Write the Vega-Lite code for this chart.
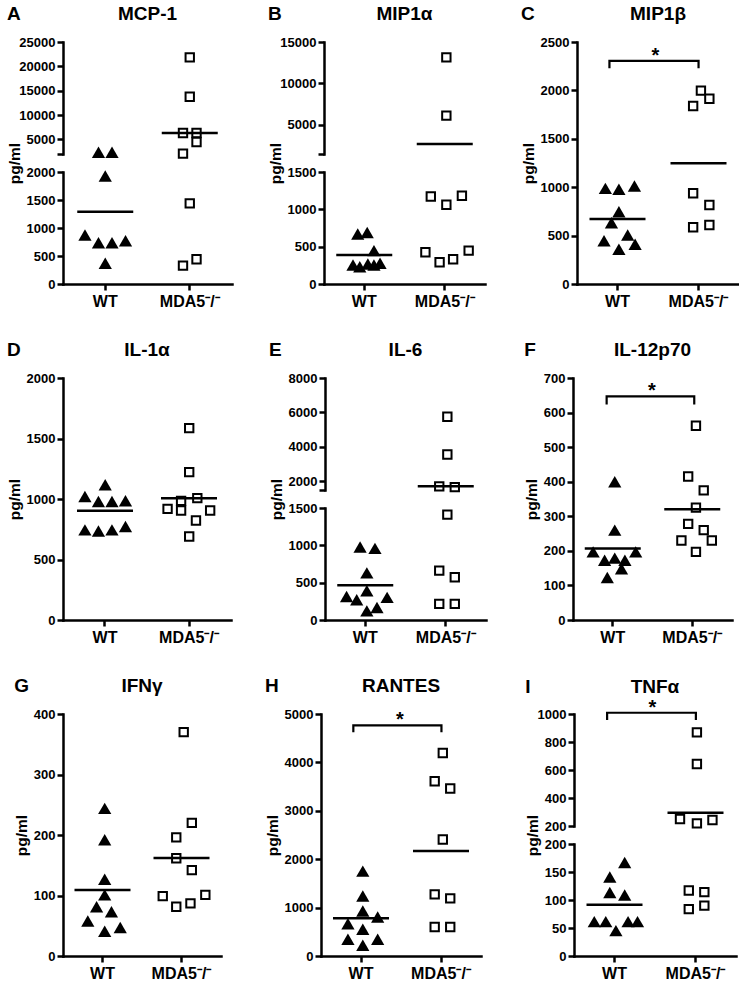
{
"$schema": "https://vega.github.io/schema/vega-lite/v6.json",
"padding": {"left": 7, "top": 5, "right": 0, "bottom": 0},
"background": "white",
"config": {
  "view": {"stroke": null},
  "font": "Liberation Sans",
  "title": {"font": "Liberation Sans", "fontSize": 19, "fontWeight": "bold", "color": "black"},
  "axis": {"domainColor": "black", "domainWidth": 2.5, "domainCap": "square", "tickColor": "black", "tickWidth": 2.5, "tickSize": 6, "labelColor": "black", "labelFont": "Liberation Sans", "labelFontWeight": "bold", "labelFontSize": 13, "labelPadding": 2, "titleColor": "black", "titleFont": "Liberation Sans", "titleFontWeight": "bold", "titleFontSize": 15.5, "titlePadding": 4, "grid": false, "labelFlush": false, "labelOverlap": false},
  "axisX": {"labelFontSize": 16, "labelPadding": 3, "labelAngle": 0}
},
"datasets": {
  "pts": [
    {"p":"A","g":"WT","j":-1,"v":2380},{"p":"A","g":"WT","j":1,"v":2380},{"p":"A","g":"WT","j":0,"v":1930},{"p":"A","g":"WT","j":-3,"v":875},{"p":"A","g":"WT","j":-1,"v":737},{"p":"A","g":"WT","j":1,"v":737},{"p":"A","g":"WT","j":3,"v":773},{"p":"A","g":"WT","j":0,"v":370},
    {"p":"A","g":"MDA5","j":0,"v":21850},{"p":"A","g":"MDA5","j":0,"v":13750},{"p":"A","g":"MDA5","j":-1,"v":6316},{"p":"A","g":"MDA5","j":1,"v":6316},{"p":"A","g":"MDA5","j":1,"v":4460},{"p":"A","g":"MDA5","j":-1,"v":2070},{"p":"A","g":"MDA5","j":0,"v":1440},{"p":"A","g":"MDA5","j":-1,"v":327},{"p":"A","g":"MDA5","j":1,"v":441},
    {"p":"B","g":"WT","j":-1.2,"v":671},{"p":"B","g":"WT","j":0.2,"v":689},{"p":"B","g":"WT","j":1.2,"v":447},{"p":"B","g":"WT","j":-1.9,"v":255},{"p":"B","g":"WT","j":-0.9,"v":232},{"p":"B","g":"WT","j":0.3,"v":269},{"p":"B","g":"WT","j":1.2,"v":255},{"p":"B","g":"WT","j":2.1,"v":278},
    {"p":"B","g":"MDA5","j":0,"v":13150},{"p":"B","g":"MDA5","j":0,"v":6120},{"p":"B","g":"MDA5","j":-2.3,"v":1172},{"p":"B","g":"MDA5","j":0,"v":1061},{"p":"B","g":"MDA5","j":2.3,"v":1182},{"p":"B","g":"MDA5","j":-3.1,"v":426},{"p":"B","g":"MDA5","j":-1,"v":292},{"p":"B","g":"MDA5","j":1,"v":332},{"p":"B","g":"MDA5","j":3.3,"v":447},
    {"p":"C","g":"WT","j":-2,"v":988},{"p":"C","g":"WT","j":0,"v":978},{"p":"C","g":"WT","j":2.3,"v":1012},{"p":"C","g":"WT","j":0,"v":747},{"p":"C","g":"WT","j":-1.1,"v":633},{"p":"C","g":"WT","j":1.3,"v":506},{"p":"C","g":"WT","j":-2.2,"v":447},{"p":"C","g":"WT","j":2.4,"v":410},{"p":"C","g":"WT","j":0,"v":358},
    {"p":"C","g":"MDA5","j":0.15,"v":1998},{"p":"C","g":"MDA5","j":1.4,"v":1914},{"p":"C","g":"MDA5","j":-1,"v":1839},{"p":"C","g":"MDA5","j":-1,"v":937},{"p":"C","g":"MDA5","j":1.4,"v":816},{"p":"C","g":"MDA5","j":-1,"v":586},{"p":"C","g":"MDA5","j":1.4,"v":610},
    {"p":"D","g":"WT","j":-3,"v":1021},{"p":"D","g":"WT","j":0,"v":1117},{"p":"D","g":"WT","j":-1,"v":980},{"p":"D","g":"WT","j":1,"v":980},{"p":"D","g":"WT","j":3,"v":985},{"p":"D","g":"WT","j":-3,"v":745},{"p":"D","g":"WT","j":-1,"v":736},{"p":"D","g":"WT","j":1,"v":745},{"p":"D","g":"WT","j":3,"v":773},
    {"p":"D","g":"MDA5","j":0,"v":1586},{"p":"D","g":"MDA5","j":0,"v":1222},{"p":"D","g":"MDA5","j":-1.2,"v":985},{"p":"D","g":"MDA5","j":1.2,"v":1007},{"p":"D","g":"MDA5","j":-3.2,"v":918},{"p":"D","g":"MDA5","j":-1.2,"v":905},{"p":"D","g":"MDA5","j":3.1,"v":905},{"p":"D","g":"MDA5","j":1,"v":822},{"p":"D","g":"MDA5","j":0,"v":690},
    {"p":"E","g":"WT","j":-1,"v":978},{"p":"E","g":"WT","j":1.2,"v":959},{"p":"E","g":"WT","j":0,"v":631},{"p":"E","g":"WT","j":-3,"v":316},{"p":"E","g":"WT","j":-1.5,"v":270},{"p":"E","g":"WT","j":0,"v":392},{"p":"E","g":"WT","j":3,"v":303},{"p":"E","g":"WT","j":0,"v":122},{"p":"E","g":"WT","j":1.5,"v":168},
    {"p":"E","g":"MDA5","j":0,"v":5754},{"p":"E","g":"MDA5","j":0,"v":3560},{"p":"E","g":"MDA5","j":-1.2,"v":1707},{"p":"E","g":"MDA5","j":1.1,"v":1666},{"p":"E","g":"MDA5","j":0,"v":1411},{"p":"E","g":"MDA5","j":-1.2,"v":662},{"p":"E","g":"MDA5","j":1.1,"v":573},{"p":"E","g":"MDA5","j":-1.2,"v":216},{"p":"E","g":"MDA5","j":1.1,"v":216},
    {"p":"F","g":"WT","j":0,"v":400},{"p":"F","g":"WT","j":0,"v":260},{"p":"F","g":"WT","j":-3.2,"v":197},{"p":"F","g":"WT","j":3.1,"v":197},{"p":"F","g":"WT","j":-1.5,"v":173},{"p":"F","g":"WT","j":0,"v":179},{"p":"F","g":"WT","j":1.5,"v":173},{"p":"F","g":"WT","j":1,"v":148},{"p":"F","g":"WT","j":-1.1,"v":123},
    {"p":"F","g":"MDA5","j":0.25,"v":562},{"p":"F","g":"MDA5","j":-0.9,"v":415},{"p":"F","g":"MDA5","j":1.4,"v":375},{"p":"F","g":"MDA5","j":0.25,"v":325},{"p":"F","g":"MDA5","j":-0.9,"v":278},{"p":"F","g":"MDA5","j":1.4,"v":260},{"p":"F","g":"MDA5","j":-1.9,"v":230},{"p":"F","g":"MDA5","j":2.6,"v":230},{"p":"F","g":"MDA5","j":0.25,"v":197},
    {"p":"G","g":"WT","j":0,"v":244},{"p":"G","g":"WT","j":0,"v":192},{"p":"G","g":"WT","j":0,"v":127},{"p":"G","g":"WT","j":0,"v":101},{"p":"G","g":"WT","j":-1.2,"v":81.5},{"p":"G","g":"WT","j":1,"v":73},{"p":"G","g":"WT","j":-2.5,"v":58},{"p":"G","g":"WT","j":2.3,"v":47},{"p":"G","g":"WT","j":0,"v":41},
    {"p":"G","g":"MDA5","j":0,"v":370},{"p":"G","g":"MDA5","j":1.2,"v":220},{"p":"G","g":"MDA5","j":-1.1,"v":196},{"p":"G","g":"MDA5","j":-1.1,"v":161.5},{"p":"G","g":"MDA5","j":1.2,"v":142},{"p":"G","g":"MDA5","j":-3.1,"v":99},{"p":"G","g":"MDA5","j":-1.1,"v":81.5},{"p":"G","g":"MDA5","j":1,"v":87},{"p":"G","g":"MDA5","j":3.2,"v":101},
    {"p":"H","g":"WT","j":0,"v":1754},{"p":"H","g":"WT","j":0,"v":1238},{"p":"H","g":"WT","j":0,"v":929},{"p":"H","g":"WT","j":-2.2,"v":667},{"p":"H","g":"WT","j":2.2,"v":805},{"p":"H","g":"WT","j":0,"v":551},{"p":"H","g":"WT","j":-2.2,"v":345},{"p":"H","g":"WT","j":2.2,"v":345},{"p":"H","g":"WT","j":0,"v":221},
    {"p":"H","g":"MDA5","j":0,"v":4195},{"p":"H","g":"MDA5","j":-1.2,"v":3611},{"p":"H","g":"MDA5","j":1.1,"v":3460},{"p":"H","g":"MDA5","j":0,"v":2408},{"p":"H","g":"MDA5","j":-1.2,"v":1273},{"p":"H","g":"MDA5","j":1.1,"v":1191},{"p":"H","g":"MDA5","j":-1.2,"v":598},{"p":"H","g":"MDA5","j":1.1,"v":598},
    {"p":"I","g":"WT","j":1.3,"v":167},{"p":"I","g":"WT","j":-0.9,"v":141},{"p":"I","g":"WT","j":-0.9,"v":113.5},{"p":"I","g":"WT","j":1.3,"v":109},{"p":"I","g":"WT","j":-3.2,"v":61.4},{"p":"I","g":"WT","j":-1.5,"v":61.4},{"p":"I","g":"WT","j":0,"v":45.3},{"p":"I","g":"WT","j":1.8,"v":61.4},{"p":"I","g":"WT","j":3.2,"v":61.4},
    {"p":"I","g":"MDA5","j":0,"v":869},{"p":"I","g":"MDA5","j":0,"v":643},{"p":"I","g":"MDA5","j":-2.5,"v":250},{"p":"I","g":"MDA5","j":0,"v":219},{"p":"I","g":"MDA5","j":2.3,"v":243},{"p":"I","g":"MDA5","j":-1.2,"v":117},{"p":"I","g":"MDA5","j":1.1,"v":114},{"p":"I","g":"MDA5","j":-1.2,"v":83.6},{"p":"I","g":"MDA5","j":1.1,"v":90}
  ],
  "means": [
    {"p":"A","g":"WT","v":1290},{"p":"A","g":"MDA5","v":6320},
    {"p":"B","g":"WT","v":389},{"p":"B","g":"MDA5","v":2710},
    {"p":"C","g":"WT","v":671},{"p":"C","g":"MDA5","v":1247},
    {"p":"D","g":"WT","v":902},{"p":"D","g":"MDA5","v":1007},
    {"p":"E","g":"WT","v":465},{"p":"E","g":"MDA5","v":1724},
    {"p":"F","g":"WT","v":206.5},{"p":"F","g":"MDA5","v":320},
    {"p":"G","g":"WT","v":109},{"p":"G","g":"MDA5","v":162},
    {"p":"H","g":"WT","v":778},{"p":"H","g":"MDA5","v":2167},
    {"p":"I","g":"WT","v":91.3},{"p":"I","g":"MDA5","v":295}
  ],
  "brk": [
    {"p":"C","g":"WT","j":-1.4,"v":2228,"o":1},{"p":"C","g":"WT","j":-1.4,"v":2304,"o":2},{"p":"C","g":"MDA5","j":-0.2,"v":2304,"o":3},{"p":"C","g":"MDA5","j":-0.2,"v":2228,"o":4},
    {"p":"F","g":"WT","j":-1.2,"v":623,"o":1},{"p":"F","g":"WT","j":-1.2,"v":647,"o":2},{"p":"F","g":"MDA5","j":0,"v":647,"o":3},{"p":"F","g":"MDA5","j":0,"v":623,"o":4},
    {"p":"H","g":"WT","j":-1.4,"v":4622,"o":1},{"p":"H","g":"WT","j":-1.4,"v":4767,"o":2},{"p":"H","g":"MDA5","j":-0.2,"v":4767,"o":3},{"p":"H","g":"MDA5","j":-0.2,"v":4622,"o":4},
    {"p":"I","g":"WT","j":-1.3,"v":957,"o":1},{"p":"I","g":"WT","j":-1.3,"v":1009,"o":2},{"p":"I","g":"MDA5","j":-0.15,"v":1009,"o":3},{"p":"I","g":"MDA5","j":-0.15,"v":957,"o":4}
  ],
  "ast": [
    {"p":"C","g":"WT","j":5.4,"v":2304},{"p":"F","g":"WT","j":5.5,"v":647},{"p":"H","g":"WT","j":5.5,"v":4767},{"p":"I","g":"WT","j":5.4,"v":1009}
  ]
},
"spacing": 32,
"vconcat": [
 {"spacing": 36, "hconcat": [
  {"title": {"text": "A", "anchor": "start", "frame": "bounds", "offset": -19}, "bounds": "flush", "spacing": 18, "vconcat": [
   {"width": 169, "height": 112,
    "title": {"text": "MCP-1", "anchor": "middle", "frame": "group", "offset": 12},
    "encoding": {
      "x": {"field": "g", "type": "nominal", "scale": {"type": "band", "domain": ["WT","MDA5"], "paddingInner": 0.2, "paddingOuter": 0.1}, "axis": null},
      "y": {"field": "v", "type": "quantitative", "scale": {"domain": [2000, 25000], "nice": false, "zero": false}, "axis": {"values": [2000,5000,10000,15000,20000,25000], "format": "d", "title": null, "labelExpr": "datum.value == 2000 ? '' : datum.label"}}},
    "layer": [
      {"data": {"name": "pts"}, "transform": [{"filter": "datum.p == 'A' && datum.g == 'WT' && datum.v >= 2000"}], "mark": {"type": "point", "shape": "triangle-up", "filled": true, "color": "black", "size": 175, "opacity": 1}, "encoding": {"xOffset": {"field": "j", "type": "quantitative", "scale": {"domain": [-5, 5]}}}},
      {"data": {"name": "pts"}, "transform": [{"filter": "datum.p == 'A' && datum.g == 'MDA5' && datum.v >= 2000"}], "mark": {"type": "point", "shape": "square", "filled": true, "fill": "white", "stroke": "black", "strokeWidth": 2, "size": 70, "opacity": 1}, "encoding": {"xOffset": {"field": "j", "type": "quantitative", "scale": {"domain": [-5, 5]}}}},
      {"data": {"name": "means"}, "transform": [{"filter": "datum.p == 'A' && datum.v >= 2000"}], "mark": {"type": "tick", "orient": "horizontal", "size": 56, "thickness": 2.5, "color": "black", "opacity": 1}}
    ]},
   {"width": 169, "height": 112,
    "encoding": {
      "x": {"field": "g", "type": "nominal", "scale": {"type": "band", "domain": ["WT","MDA5"], "paddingInner": 0.2, "paddingOuter": 0.1}, "axis": {"title": null, "labelExpr": "datum.value == 'MDA5' ? 'MDA5⁻/⁻' : 'WT'"}},
      "y": {"field": "v", "type": "quantitative", "scale": {"domain": [0, 2000], "nice": false, "zero": false}, "axis": {"values": [0,500,1000,1500,2000], "format": "d", "title": "pg/ml", "titleY": -9}}},
    "layer": [
      {"data": {"name": "pts"}, "transform": [{"filter": "datum.p == 'A' && datum.g == 'WT' && datum.v < 2000"}], "mark": {"type": "point", "shape": "triangle-up", "filled": true, "color": "black", "size": 175, "opacity": 1}, "encoding": {"xOffset": {"field": "j", "type": "quantitative", "scale": {"domain": [-5, 5]}}}},
      {"data": {"name": "pts"}, "transform": [{"filter": "datum.p == 'A' && datum.g == 'MDA5' && datum.v < 2000"}], "mark": {"type": "point", "shape": "square", "filled": true, "fill": "white", "stroke": "black", "strokeWidth": 2, "size": 70, "opacity": 1}, "encoding": {"xOffset": {"field": "j", "type": "quantitative", "scale": {"domain": [-5, 5]}}}},
      {"data": {"name": "means"}, "transform": [{"filter": "datum.p == 'A' && datum.v < 2000"}], "mark": {"type": "tick", "orient": "horizontal", "size": 56, "thickness": 2.5, "color": "black", "opacity": 1}}
    ]}
  ]},
  {"title": {"text": "B", "anchor": "start", "frame": "bounds", "offset": -19}, "bounds": "flush", "spacing": 18, "vconcat": [
   {"width": 161, "height": 112,
    "title": {"text": "MIP1α", "anchor": "middle", "frame": "group", "offset": 12},
    "encoding": {
      "x": {"field": "g", "type": "nominal", "scale": {"type": "band", "domain": ["WT","MDA5"], "paddingInner": 0.2, "paddingOuter": 0.1}, "axis": null},
      "y": {"field": "v", "type": "quantitative", "scale": {"domain": [1500, 15000], "nice": false, "zero": false}, "axis": {"values": [1500,5000,10000,15000], "format": "d", "title": null, "labelExpr": "datum.value == 1500 ? '' : datum.label"}}},
    "layer": [
      {"data": {"name": "pts"}, "transform": [{"filter": "datum.p == 'B' && datum.g == 'WT' && datum.v >= 1500"}], "mark": {"type": "point", "shape": "triangle-up", "filled": true, "color": "black", "size": 175, "opacity": 1}, "encoding": {"xOffset": {"field": "j", "type": "quantitative", "scale": {"domain": [-5, 5]}}}},
      {"data": {"name": "pts"}, "transform": [{"filter": "datum.p == 'B' && datum.g == 'MDA5' && datum.v >= 1500"}], "mark": {"type": "point", "shape": "square", "filled": true, "fill": "white", "stroke": "black", "strokeWidth": 2, "size": 70, "opacity": 1}, "encoding": {"xOffset": {"field": "j", "type": "quantitative", "scale": {"domain": [-5, 5]}}}},
      {"data": {"name": "means"}, "transform": [{"filter": "datum.p == 'B' && datum.v >= 1500"}], "mark": {"type": "tick", "orient": "horizontal", "size": 56, "thickness": 2.5, "color": "black", "opacity": 1}}
    ]},
   {"width": 161, "height": 112,
    "encoding": {
      "x": {"field": "g", "type": "nominal", "scale": {"type": "band", "domain": ["WT","MDA5"], "paddingInner": 0.2, "paddingOuter": 0.1}, "axis": {"title": null, "labelExpr": "datum.value == 'MDA5' ? 'MDA5⁻/⁻' : 'WT'"}},
      "y": {"field": "v", "type": "quantitative", "scale": {"domain": [0, 1500], "nice": false, "zero": false}, "axis": {"values": [0,500,1000,1500], "format": "d", "title": "pg/ml", "titleY": -9}}},
    "layer": [
      {"data": {"name": "pts"}, "transform": [{"filter": "datum.p == 'B' && datum.g == 'WT' && datum.v < 1500"}], "mark": {"type": "point", "shape": "triangle-up", "filled": true, "color": "black", "size": 175, "opacity": 1}, "encoding": {"xOffset": {"field": "j", "type": "quantitative", "scale": {"domain": [-5, 5]}}}},
      {"data": {"name": "pts"}, "transform": [{"filter": "datum.p == 'B' && datum.g == 'MDA5' && datum.v < 1500"}], "mark": {"type": "point", "shape": "square", "filled": true, "fill": "white", "stroke": "black", "strokeWidth": 2, "size": 70, "opacity": 1}, "encoding": {"xOffset": {"field": "j", "type": "quantitative", "scale": {"domain": [-5, 5]}}}},
      {"data": {"name": "means"}, "transform": [{"filter": "datum.p == 'B' && datum.v < 1500"}], "mark": {"type": "tick", "orient": "horizontal", "size": 56, "thickness": 2.5, "color": "black", "opacity": 1}}
    ]}
  ]},
  {"title": {"text": "C", "anchor": "start", "frame": "bounds", "offset": -19}, "bounds": "flush", "vconcat": [
   {"width": 162, "height": 242,
    "title": {"text": "MIP1β", "anchor": "middle", "frame": "group", "offset": 12},
    "encoding": {
      "x": {"field": "g", "type": "nominal", "scale": {"type": "band", "domain": ["WT","MDA5"], "paddingInner": 0.2, "paddingOuter": 0.1}, "axis": {"title": null, "labelExpr": "datum.value == 'MDA5' ? 'MDA5⁻/⁻' : 'WT'"}},
      "y": {"field": "v", "type": "quantitative", "scale": {"domain": [0, 2500], "nice": false, "zero": false}, "axis": {"values": [0,500,1000,1500,2000,2500], "format": "d", "title": "pg/ml"}}},
    "layer": [
      {"data": {"name": "pts"}, "transform": [{"filter": "datum.p == 'C' && datum.g == 'WT'"}], "mark": {"type": "point", "shape": "triangle-up", "filled": true, "color": "black", "size": 175, "opacity": 1}, "encoding": {"xOffset": {"field": "j", "type": "quantitative", "scale": {"domain": [-5, 5]}}}},
      {"data": {"name": "pts"}, "transform": [{"filter": "datum.p == 'C' && datum.g == 'MDA5'"}], "mark": {"type": "point", "shape": "square", "filled": true, "fill": "white", "stroke": "black", "strokeWidth": 2, "size": 70, "opacity": 1}, "encoding": {"xOffset": {"field": "j", "type": "quantitative", "scale": {"domain": [-5, 5]}}}},
      {"data": {"name": "means"}, "transform": [{"filter": "datum.p == 'C'"}], "mark": {"type": "tick", "orient": "horizontal", "size": 56, "thickness": 2.5, "color": "black", "opacity": 1}},
      {"data": {"name": "brk"}, "transform": [{"filter": "datum.p == 'C'"}], "mark": {"type": "line", "color": "black", "strokeWidth": 2.2}, "encoding": {"xOffset": {"field": "j", "type": "quantitative", "scale": {"domain": [-5, 5]}}, "order": {"field": "o", "type": "quantitative"}}},
      {"data": {"name": "ast"}, "transform": [{"filter": "datum.p == 'C'"}], "mark": {"type": "text", "text": "*", "fontSize": 20, "fontWeight": "bold", "baseline": "alphabetic", "dy": 1, "color": "black"}, "encoding": {"xOffset": {"field": "j", "type": "quantitative", "scale": {"domain": [-5, 5]}}}}
    ]}
  ]}
 ]},
 {"spacing": 38, "hconcat": [
  {"title": {"text": "D", "anchor": "start", "frame": "bounds", "offset": -19}, "bounds": "flush", "vconcat": [
   {"width": 168, "height": 242,
    "title": {"text": "IL-1α", "anchor": "middle", "frame": "group", "offset": 12},
    "encoding": {
      "x": {"field": "g", "type": "nominal", "scale": {"type": "band", "domain": ["WT","MDA5"], "paddingInner": 0.2, "paddingOuter": 0.1}, "axis": {"title": null, "labelExpr": "datum.value == 'MDA5' ? 'MDA5⁻/⁻' : 'WT'"}},
      "y": {"field": "v", "type": "quantitative", "scale": {"domain": [0, 2000], "nice": false, "zero": false}, "axis": {"values": [0,500,1000,1500,2000], "format": "d", "title": "pg/ml"}}},
    "layer": [
      {"data": {"name": "pts"}, "transform": [{"filter": "datum.p == 'D' && datum.g == 'WT'"}], "mark": {"type": "point", "shape": "triangle-up", "filled": true, "color": "black", "size": 175, "opacity": 1}, "encoding": {"xOffset": {"field": "j", "type": "quantitative", "scale": {"domain": [-5, 5]}}}},
      {"data": {"name": "pts"}, "transform": [{"filter": "datum.p == 'D' && datum.g == 'MDA5'"}], "mark": {"type": "point", "shape": "square", "filled": true, "fill": "white", "stroke": "black", "strokeWidth": 2, "size": 70, "opacity": 1}, "encoding": {"xOffset": {"field": "j", "type": "quantitative", "scale": {"domain": [-5, 5]}}}},
      {"data": {"name": "means"}, "transform": [{"filter": "datum.p == 'D'"}], "mark": {"type": "tick", "orient": "horizontal", "size": 56, "thickness": 2.5, "color": "black", "opacity": 1}}
    ]}
  ]},
  {"title": {"text": "E", "anchor": "start", "frame": "bounds", "offset": -19}, "bounds": "flush", "spacing": 18, "vconcat": [
   {"width": 161, "height": 112,
    "title": {"text": "IL-6", "anchor": "middle", "frame": "group", "offset": 12},
    "encoding": {
      "x": {"field": "g", "type": "nominal", "scale": {"type": "band", "domain": ["WT","MDA5"], "paddingInner": 0.2, "paddingOuter": 0.1}, "axis": null},
      "y": {"field": "v", "type": "quantitative", "scale": {"domain": [1500, 8000], "nice": false, "zero": false}, "axis": {"values": [1500,2000,4000,6000,8000], "format": "d", "title": null, "labelExpr": "datum.value == 1500 ? '' : datum.label"}}},
    "layer": [
      {"data": {"name": "pts"}, "transform": [{"filter": "datum.p == 'E' && datum.g == 'WT' && datum.v >= 1500"}], "mark": {"type": "point", "shape": "triangle-up", "filled": true, "color": "black", "size": 175, "opacity": 1}, "encoding": {"xOffset": {"field": "j", "type": "quantitative", "scale": {"domain": [-5, 5]}}}},
      {"data": {"name": "pts"}, "transform": [{"filter": "datum.p == 'E' && datum.g == 'MDA5' && datum.v >= 1500"}], "mark": {"type": "point", "shape": "square", "filled": true, "fill": "white", "stroke": "black", "strokeWidth": 2, "size": 70, "opacity": 1}, "encoding": {"xOffset": {"field": "j", "type": "quantitative", "scale": {"domain": [-5, 5]}}}},
      {"data": {"name": "means"}, "transform": [{"filter": "datum.p == 'E' && datum.v >= 1500"}], "mark": {"type": "tick", "orient": "horizontal", "size": 56, "thickness": 2.5, "color": "black", "opacity": 1}}
    ]},
   {"width": 161, "height": 112,
    "encoding": {
      "x": {"field": "g", "type": "nominal", "scale": {"type": "band", "domain": ["WT","MDA5"], "paddingInner": 0.2, "paddingOuter": 0.1}, "axis": {"title": null, "labelExpr": "datum.value == 'MDA5' ? 'MDA5⁻/⁻' : 'WT'"}},
      "y": {"field": "v", "type": "quantitative", "scale": {"domain": [0, 1500], "nice": false, "zero": false}, "axis": {"values": [0,500,1000,1500], "format": "d", "title": "pg/ml", "titleY": -9}}},
    "layer": [
      {"data": {"name": "pts"}, "transform": [{"filter": "datum.p == 'E' && datum.g == 'WT' && datum.v < 1500"}], "mark": {"type": "point", "shape": "triangle-up", "filled": true, "color": "black", "size": 175, "opacity": 1}, "encoding": {"xOffset": {"field": "j", "type": "quantitative", "scale": {"domain": [-5, 5]}}}},
      {"data": {"name": "pts"}, "transform": [{"filter": "datum.p == 'E' && datum.g == 'MDA5' && datum.v < 1500"}], "mark": {"type": "point", "shape": "square", "filled": true, "fill": "white", "stroke": "black", "strokeWidth": 2, "size": 70, "opacity": 1}, "encoding": {"xOffset": {"field": "j", "type": "quantitative", "scale": {"domain": [-5, 5]}}}},
      {"data": {"name": "means"}, "transform": [{"filter": "datum.p == 'E' && datum.v < 1500"}], "mark": {"type": "tick", "orient": "horizontal", "size": 56, "thickness": 2.5, "color": "black", "opacity": 1}}
    ]}
  ]},
  {"title": {"text": "F", "anchor": "start", "frame": "bounds", "offset": -19}, "bounds": "flush", "vconcat": [
   {"width": 159, "height": 242,
    "title": {"text": "IL-12p70", "anchor": "middle", "frame": "group", "offset": 12},
    "encoding": {
      "x": {"field": "g", "type": "nominal", "scale": {"type": "band", "domain": ["WT","MDA5"], "paddingInner": 0.2, "paddingOuter": 0.1}, "axis": {"title": null, "labelExpr": "datum.value == 'MDA5' ? 'MDA5⁻/⁻' : 'WT'"}},
      "y": {"field": "v", "type": "quantitative", "scale": {"domain": [0, 700], "nice": false, "zero": false}, "axis": {"values": [0,100,200,300,400,500,600,700], "format": "d", "title": "pg/ml"}}},
    "layer": [
      {"data": {"name": "pts"}, "transform": [{"filter": "datum.p == 'F' && datum.g == 'WT'"}], "mark": {"type": "point", "shape": "triangle-up", "filled": true, "color": "black", "size": 175, "opacity": 1}, "encoding": {"xOffset": {"field": "j", "type": "quantitative", "scale": {"domain": [-5, 5]}}}},
      {"data": {"name": "pts"}, "transform": [{"filter": "datum.p == 'F' && datum.g == 'MDA5'"}], "mark": {"type": "point", "shape": "square", "filled": true, "fill": "white", "stroke": "black", "strokeWidth": 2, "size": 70, "opacity": 1}, "encoding": {"xOffset": {"field": "j", "type": "quantitative", "scale": {"domain": [-5, 5]}}}},
      {"data": {"name": "means"}, "transform": [{"filter": "datum.p == 'F'"}], "mark": {"type": "tick", "orient": "horizontal", "size": 56, "thickness": 2.5, "color": "black", "opacity": 1}},
      {"data": {"name": "brk"}, "transform": [{"filter": "datum.p == 'F'"}], "mark": {"type": "line", "color": "black", "strokeWidth": 2.2}, "encoding": {"xOffset": {"field": "j", "type": "quantitative", "scale": {"domain": [-5, 5]}}, "order": {"field": "o", "type": "quantitative"}}},
      {"data": {"name": "ast"}, "transform": [{"filter": "datum.p == 'F'"}], "mark": {"type": "text", "text": "*", "fontSize": 20, "fontWeight": "bold", "baseline": "alphabetic", "dy": 1, "color": "black"}, "encoding": {"xOffset": {"field": "j", "type": "quantitative", "scale": {"domain": [-5, 5]}}}}
    ]}
  ]}
 ]},
 {"spacing": 44, "hconcat": [
  {"title": {"text": "G", "anchor": "start", "frame": "bounds", "offset": -19}, "bounds": "flush", "vconcat": [
   {"width": 158, "height": 242,
    "title": {"text": "IFNγ", "anchor": "middle", "frame": "group", "offset": 12},
    "encoding": {
      "x": {"field": "g", "type": "nominal", "scale": {"type": "band", "domain": ["WT","MDA5"], "paddingInner": 0.2, "paddingOuter": 0.1}, "axis": {"title": null, "labelExpr": "datum.value == 'MDA5' ? 'MDA5⁻/⁻' : 'WT'"}},
      "y": {"field": "v", "type": "quantitative", "scale": {"domain": [0, 400], "nice": false, "zero": false}, "axis": {"values": [0,100,200,300,400], "format": "d", "title": "pg/ml"}}},
    "layer": [
      {"data": {"name": "pts"}, "transform": [{"filter": "datum.p == 'G' && datum.g == 'WT'"}], "mark": {"type": "point", "shape": "triangle-up", "filled": true, "color": "black", "size": 175, "opacity": 1}, "encoding": {"xOffset": {"field": "j", "type": "quantitative", "scale": {"domain": [-5, 5]}}}},
      {"data": {"name": "pts"}, "transform": [{"filter": "datum.p == 'G' && datum.g == 'MDA5'"}], "mark": {"type": "point", "shape": "square", "filled": true, "fill": "white", "stroke": "black", "strokeWidth": 2, "size": 70, "opacity": 1}, "encoding": {"xOffset": {"field": "j", "type": "quantitative", "scale": {"domain": [-5, 5]}}}},
      {"data": {"name": "means"}, "transform": [{"filter": "datum.p == 'G'"}], "mark": {"type": "tick", "orient": "horizontal", "size": 56, "thickness": 2.5, "color": "black", "opacity": 1}}
    ]}
  ]},
  {"title": {"text": "H", "anchor": "start", "frame": "bounds", "offset": -19}, "bounds": "flush", "vconcat": [
   {"width": 160, "height": 242,
    "title": {"text": "RANTES", "anchor": "middle", "frame": "group", "offset": 12},
    "encoding": {
      "x": {"field": "g", "type": "nominal", "scale": {"type": "band", "domain": ["WT","MDA5"], "paddingInner": 0.2, "paddingOuter": 0.1}, "axis": {"title": null, "labelExpr": "datum.value == 'MDA5' ? 'MDA5⁻/⁻' : 'WT'"}},
      "y": {"field": "v", "type": "quantitative", "scale": {"domain": [0, 5000], "nice": false, "zero": false}, "axis": {"values": [0,1000,2000,3000,4000,5000], "format": "d", "title": "pg/ml"}}},
    "layer": [
      {"data": {"name": "pts"}, "transform": [{"filter": "datum.p == 'H' && datum.g == 'WT'"}], "mark": {"type": "point", "shape": "triangle-up", "filled": true, "color": "black", "size": 175, "opacity": 1}, "encoding": {"xOffset": {"field": "j", "type": "quantitative", "scale": {"domain": [-5, 5]}}}},
      {"data": {"name": "pts"}, "transform": [{"filter": "datum.p == 'H' && datum.g == 'MDA5'"}], "mark": {"type": "point", "shape": "square", "filled": true, "fill": "white", "stroke": "black", "strokeWidth": 2, "size": 70, "opacity": 1}, "encoding": {"xOffset": {"field": "j", "type": "quantitative", "scale": {"domain": [-5, 5]}}}},
      {"data": {"name": "means"}, "transform": [{"filter": "datum.p == 'H'"}], "mark": {"type": "tick", "orient": "horizontal", "size": 56, "thickness": 2.5, "color": "black", "opacity": 1}},
      {"data": {"name": "brk"}, "transform": [{"filter": "datum.p == 'H'"}], "mark": {"type": "line", "color": "black", "strokeWidth": 2.2}, "encoding": {"xOffset": {"field": "j", "type": "quantitative", "scale": {"domain": [-5, 5]}}, "order": {"field": "o", "type": "quantitative"}}},
      {"data": {"name": "ast"}, "transform": [{"filter": "datum.p == 'H'"}], "mark": {"type": "text", "text": "*", "fontSize": 20, "fontWeight": "bold", "baseline": "alphabetic", "dy": 1, "color": "black"}, "encoding": {"xOffset": {"field": "j", "type": "quantitative", "scale": {"domain": [-5, 5]}}}}
    ]}
  ]},
  {"title": {"text": "I", "anchor": "start", "frame": "bounds", "offset": -19}, "bounds": "flush", "spacing": 18, "vconcat": [
   {"width": 162, "height": 112,
    "title": {"text": "TNFα", "anchor": "middle", "frame": "group", "offset": 1},
    "encoding": {
      "x": {"field": "g", "type": "nominal", "scale": {"type": "band", "domain": ["WT","MDA5"], "paddingInner": 0.2, "paddingOuter": 0.1}, "axis": null},
      "y": {"field": "v", "type": "quantitative", "scale": {"domain": [200, 1000], "nice": false, "zero": false}, "axis": {"values": [200,400,600,800,1000], "format": "d", "title": null}}},
    "layer": [
      {"data": {"name": "pts"}, "transform": [{"filter": "datum.p == 'I' && datum.g == 'WT' && datum.v >= 200"}], "mark": {"type": "point", "shape": "triangle-up", "filled": true, "color": "black", "size": 175, "opacity": 1}, "encoding": {"xOffset": {"field": "j", "type": "quantitative", "scale": {"domain": [-5, 5]}}}},
      {"data": {"name": "pts"}, "transform": [{"filter": "datum.p == 'I' && datum.g == 'MDA5' && datum.v >= 200"}], "mark": {"type": "point", "shape": "square", "filled": true, "fill": "white", "stroke": "black", "strokeWidth": 2, "size": 70, "opacity": 1}, "encoding": {"xOffset": {"field": "j", "type": "quantitative", "scale": {"domain": [-5, 5]}}}},
      {"data": {"name": "means"}, "transform": [{"filter": "datum.p == 'I' && datum.v >= 200"}], "mark": {"type": "tick", "orient": "horizontal", "size": 56, "thickness": 2.5, "color": "black", "opacity": 1}},
      {"data": {"name": "brk"}, "transform": [{"filter": "datum.p == 'I'"}], "mark": {"type": "line", "color": "black", "strokeWidth": 2.2}, "encoding": {"xOffset": {"field": "j", "type": "quantitative", "scale": {"domain": [-5, 5]}}, "order": {"field": "o", "type": "quantitative"}}},
      {"data": {"name": "ast"}, "transform": [{"filter": "datum.p == 'I'"}], "mark": {"type": "text", "text": "*", "fontSize": 20, "fontWeight": "bold", "baseline": "alphabetic", "dy": 1, "color": "black"}, "encoding": {"xOffset": {"field": "j", "type": "quantitative", "scale": {"domain": [-5, 5]}}}}
    ]},
   {"width": 162, "height": 112,
    "encoding": {
      "x": {"field": "g", "type": "nominal", "scale": {"type": "band", "domain": ["WT","MDA5"], "paddingInner": 0.2, "paddingOuter": 0.1}, "axis": {"title": null, "labelExpr": "datum.value == 'MDA5' ? 'MDA5⁻/⁻' : 'WT'"}},
      "y": {"field": "v", "type": "quantitative", "scale": {"domain": [0, 200], "nice": false, "zero": false}, "axis": {"values": [0,50,100,150,200], "format": "d", "title": "pg/ml", "titleY": -9}}},
    "layer": [
      {"data": {"name": "pts"}, "transform": [{"filter": "datum.p == 'I' && datum.g == 'WT' && datum.v < 200"}], "mark": {"type": "point", "shape": "triangle-up", "filled": true, "color": "black", "size": 175, "opacity": 1}, "encoding": {"xOffset": {"field": "j", "type": "quantitative", "scale": {"domain": [-5, 5]}}}},
      {"data": {"name": "pts"}, "transform": [{"filter": "datum.p == 'I' && datum.g == 'MDA5' && datum.v < 200"}], "mark": {"type": "point", "shape": "square", "filled": true, "fill": "white", "stroke": "black", "strokeWidth": 2, "size": 70, "opacity": 1}, "encoding": {"xOffset": {"field": "j", "type": "quantitative", "scale": {"domain": [-5, 5]}}}},
      {"data": {"name": "means"}, "transform": [{"filter": "datum.p == 'I' && datum.v < 200"}], "mark": {"type": "tick", "orient": "horizontal", "size": 56, "thickness": 2.5, "color": "black", "opacity": 1}}
    ]}
  ]}
 ]}
]
}
